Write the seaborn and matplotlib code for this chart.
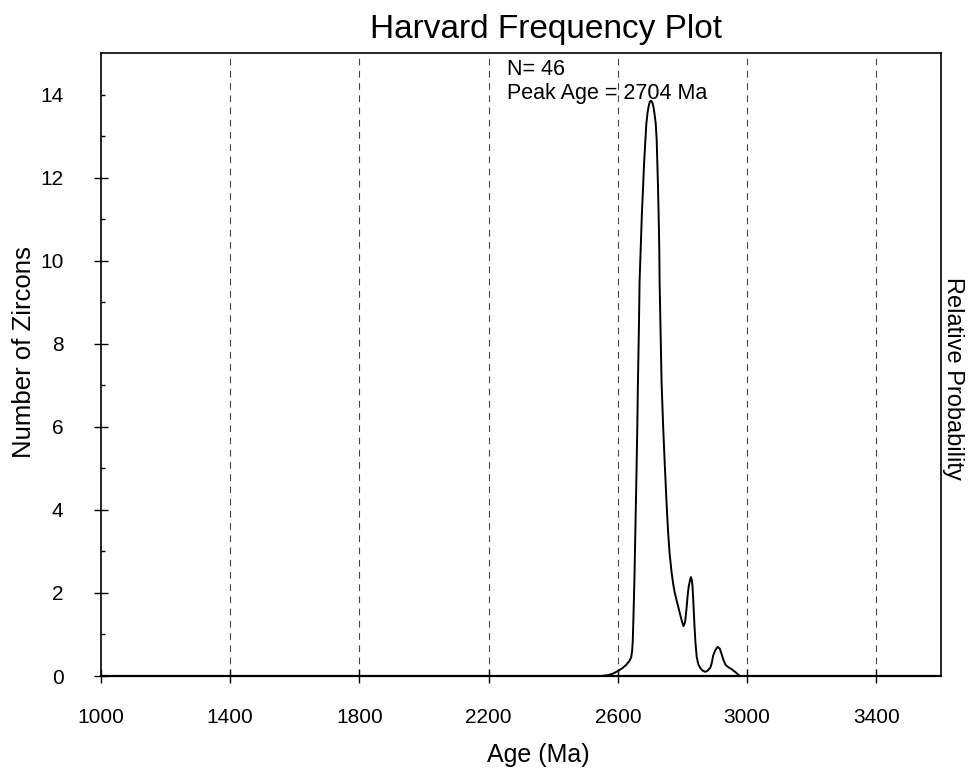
import numpy as np
import pandas as pd
import matplotlib
matplotlib.use("Agg")
import matplotlib.pyplot as plt
import seaborn as sns

# ---- data ----
ages = [2548, 2569, 2585, 2600, 2614, 2626, 2636, 2641, 2644, 2646, 2648, 2651, 2654,
        2657, 2660, 2662, 2665, 2667, 2671, 2674, 2678, 2681, 2685, 2688, 2692,
        2696, 2699, 2703, 2707, 2710, 2713, 2717, 2720, 2722, 2724, 2726, 2728,
        2729, 2732, 2735, 2740, 2745, 2750, 2755, 2760, 2766, 2771, 2776, 2784,
        2792, 2798, 2803, 2808, 2812, 2816, 2819, 2823, 2826, 2829, 2831, 2834,
        2837, 2840, 2844, 2849, 2855, 2862, 2870, 2878, 2886, 2891, 2895, 2902,
        2909, 2915, 2920, 2926, 2933, 2942, 2951, 2964, 2977]
prob = [0.0, 0.02, 0.06, 0.12, 0.19, 0.27, 0.37, 0.45, 0.6, 0.86, 1.4, 2.3, 3.5,
        4.7, 6.0, 7.1, 8.4, 9.5, 10.4, 11.1, 11.8, 12.35, 12.9, 13.3, 13.58,
        13.75, 13.83, 13.85, 13.8, 13.7, 13.55, 13.3, 12.9, 12.35, 11.8, 11.1, 10.3,
        9.5, 8.3, 7.1, 6.0, 5.1, 4.25, 3.5, 2.95, 2.5, 2.22, 2.0, 1.75,
        1.5, 1.32, 1.2, 1.3, 1.6, 1.95, 2.15, 2.3, 2.38, 2.3, 2.15, 1.7,
        1.2, 0.8, 0.45, 0.28, 0.19, 0.13, 0.1, 0.13, 0.2, 0.33, 0.5, 0.63,
        0.7, 0.66, 0.55, 0.4, 0.27, 0.21, 0.17, 0.09, 0.0]
x_ticks = [1000, 1400, 1800, 2200, 2600, 3000, 3400]
y_ticks = [0, 2, 4, 6, 8, 10, 12]
n_zircons = 46
peak_age = 2704

df = pd.DataFrame({"Age": ages, "Count": prob})

sns.set_theme(style="white")
plt.rcParams["font.family"] = ["Liberation Sans", "DejaVu Sans"]
plt.rcParams["text.color"] = "black"
plt.rcParams["axes.labelcolor"] = "black"
plt.rcParams["xtick.color"] = "black"
plt.rcParams["ytick.color"] = "black"

fig = plt.figure(figsize=(9.74, 7.75), dpi=100)
ax = fig.add_axes([101 / 974, 1 - 676 / 775, 840 / 974, 623 / 775])

sns.lineplot(data=df, x="Age", y="Count", sort=False, color="black",
             linewidth=1.4, ax=ax)

ax.set_xlim(1000, 3600)
ax.set_ylim(0, 15)
ax.set_xlabel("")
ax.set_ylabel("")

ax.set_xticks(x_ticks)
ax.set_xticklabels([str(v) for v in x_ticks])
ax.set_yticks(y_ticks)
ax.set_yticklabels([str(v) for v in y_ticks])
minor_y = [1, 3, 5, 7, 9, 11, 13, 14]
ax.set_yticks(minor_y, minor=True)
ax.set_yticklabels([""] * 7 + ["14"], minor=True)

ax.grid(False)
for xv in x_ticks[1:]:
    ax.axvline(xv, color="#444444", linewidth=0.8, linestyle=(0, (6, 5)), zorder=0)

ax.tick_params(axis="both", which="major", direction="inout", length=10,
               width=1.0, color="black", labelsize=15, labelcolor="black")
ax.tick_params(axis="x", which="major", pad=18, bottom=True)
ax.tick_params(axis="y", which="major", pad=22, left=True)
ax.tick_params(axis="y", which="minor", direction="in", length=3, width=1.0,
               left=True, labelsize=15, pad=27, color="black", labelcolor="black")

for side in ["left", "right", "top"]:
    ax.spines[side].set_color("black")
    ax.spines[side].set_linewidth(1.2)
ax.spines["bottom"].set_color("black")
ax.spines["bottom"].set_linewidth(1.6)

ax.set_title("Harvard Frequency Plot", fontsize=24, x=0.53, pad=11, color="black")

ax.text(0.4833, 0.9647, f"N= {n_zircons}", transform=ax.transAxes,
        fontsize=15.5, ha="left", va="baseline", color="black")
ax.text(0.4833, 0.926, f"Peak Age = {peak_age} Ma", transform=ax.transAxes,
        fontsize=15.5, ha="left", va="baseline", color="black")

fig.text(24 / 974, 1 - 352 / 775, "Number of Zircons", rotation=90,
         fontsize=18.5, ha="center", va="center", color="black")
fig.text(538 / 974, 1 - 755 / 775, "Age (Ma)", fontsize=18,
         ha="center", va="center", color="black")
fig.text(953 / 974, 1 - 378 / 775, "Relative Probability", rotation=-90,
         fontsize=17, ha="center", va="center", color="black")

fig.savefig("out.png", dpi=100, facecolor="white")
